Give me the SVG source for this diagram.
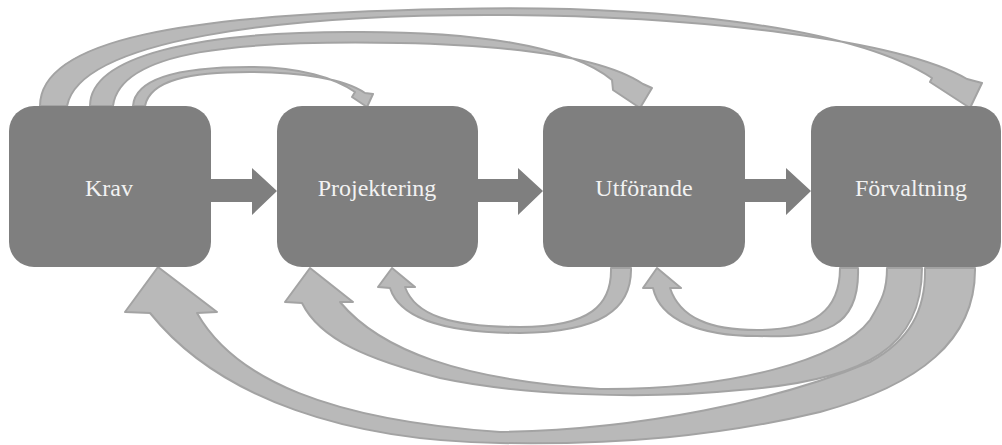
<svg xmlns="http://www.w3.org/2000/svg" width="1002" height="445" viewBox="0 0 1002 445">
<style>
.box{fill:#7f7f7f;}
.lbl{font-family:"Liberation Serif","Times New Roman",serif;font-size:24px;fill:#f2f2f2;text-anchor:middle;}
.flow{fill:#7f7f7f;}
.curve{fill:#b9b9b9;stroke:#a3a3a3;stroke-width:2;stroke-linejoin:round;}
</style>
<rect width="1002" height="445" fill="#ffffff"/>
<g id="connectors">
  <!-- straight flow arrows -->
  <polygon class="flow" points="211,179 252,179 252,168 277,191 252,215 252,202 211,202"/>
  <polygon class="flow" points="478,179 518,179 518,168 543,191 518,215 518,202 478,202"/>
  <polygon class="flow" points="745,179 786,179 786,168 811,191 786,215 786,202 745,202"/>
  <!-- top curved arrows -->
  <path class="curve" d="M40,106 C40,40 180,14 450,9 C650,4 850,25 932,78 L930,82 L970,108 L982,83 L967,79 C900,40 700,16 500,15 C280,14 80,40 67,106 Z"/>
  <path class="curve" d="M90,106 C90,55 200,32 350,32 C470,31 570,45 612,80 L613,90 L640,108 L652,88 L643,84 C600,55 500,45 400,43 C240,40 120,50 113,106 Z"/>
  <path class="curve" d="M133,106 C135,78 180,67 250,67 C300,67 335,78 355,92 L352,97 L367,107 L373,94 L365,93 C345,79 300,72 250,72 C190,72 150,80 145,106 Z"/>
  <!-- bottom curved arrows -->
  <path class="curve" d="M975,268 C976,340 920,385 820,412 C720,436 620,445 500,443 C350,441 220,400 150,313 L125,312 L158,267 L217,312 L197,313 C235,380 330,420 500,432 C640,430 780,400 870,362 C910,340 926,310 925,268 Z"/>
  <path class="curve" d="M922,268 C922,345 870,380 740,390 C640,400 520,395 440,378 C370,360 320,340 302,303 L285,302 L310,268 L353,302 L340,302 C380,350 460,380 600,389 C730,390 840,360 870,320 C882,300 887,290 887,268 Z"/>
  <path class="curve" d="M858,268 C860,328 825,338 757,336 C700,336 660,320 653,288 L643,288 L657,268 L681,288 L670,288 C680,318 710,330 757,330 C815,330 840,310 840,268 Z"/>
  <path class="curve" d="M631,268 C632,310 600,332 520,333 C450,333 400,320 390,288 L378,287 L392,268 L415,287 L405,287 C415,315 450,327 520,327 C590,327 612,305 611,268 Z"/>
</g>
<g id="node-krav">
  <rect class="box" x="9" y="106" width="202" height="161" rx="25"/>
  <text class="lbl" x="109" y="196">Krav</text>
</g>
<g id="node-projektering">
  <rect class="box" x="277" y="106" width="201" height="161" rx="25"/>
  <text class="lbl" x="377" y="196">Projektering</text>
</g>
<g id="node-utforande">
  <rect class="box" x="543" y="106" width="202" height="161" rx="25"/>
  <text class="lbl" x="644" y="196">Utförande</text>
</g>
<g id="node-forvaltning">
  <rect class="box" x="811" y="106" width="190" height="161" rx="25"/>
  <text class="lbl" x="911" y="196">Förvaltning</text>
</g>
</svg>
